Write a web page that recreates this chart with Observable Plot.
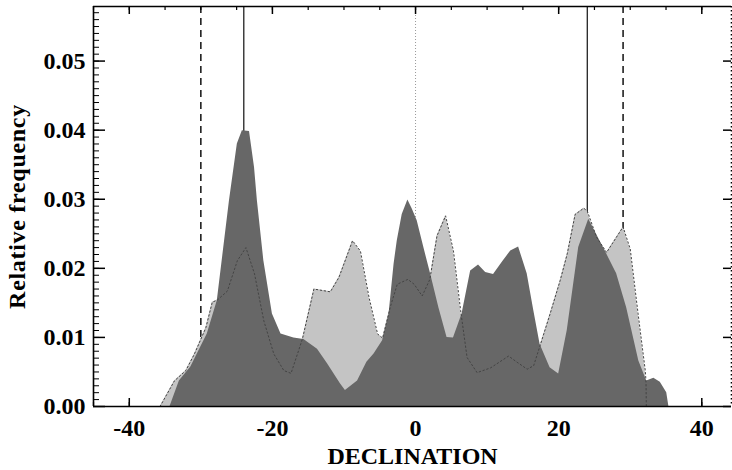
<!DOCTYPE html>
<html>
<head>
<meta charset="utf-8">
<script src="https://cdn.jsdelivr.net/npm/d3@7"></script>
<script src="https://cdn.jsdelivr.net/npm/@observablehq/plot@0.6"></script>
<style>
  html, body { margin: 0; padding: 0; background: #fff; }
</style>
</head>
<body>
<div id="chart"></div>
<script>
// ---- data ----
const xDomain = [-45, 44.15];
const yDomain = [0, 0.0579];
const xMajorTicks = [-40, -20, 0, 20, 40];
const xMinorTicks = [-45, -40, -35, -30, -25, -20, -15, -10, -5, 0, 5, 10, 15, 20, 25, 30, 35, 40];
const yMajorTicks = [0, 0.01, 0.02, 0.03, 0.04, 0.05];
const yMinorTicks = d3.range(0, 58).map(i => i / 1000);

// dark grey distribution
const darkDec  = [-34.3, -33.0, -31.4, -29.1, -27.7, -26.0, -24.9, -24.2, -23.2, -22.5, -22.1, -21.2, -20.0, -18.8, -17.0, -15.6, -13.7, -12.3, -10.5, -9.8, -8.1, -6.8, -5.8, -4.6, -3.7, -3.0, -2.55, -1.86, -1.07, -0.46, 0.23, 1.16, 2.1, 3.26, 4.4, 5.3, 6.5, 7.7, 8.8, 9.8, 10.9, 12.2, 13.3, 14.4, 15.6, 16.5, 17.4, 18.8, 20.0, 21.2, 22.8, 24.2, 25.5, 26.7, 28.1, 29.5, 31.2, 32.3, 33.3, 34.2, 35.1, 35.4];
const darkFreq = [0, 0.0037, 0.0057, 0.0105, 0.0153, 0.0298, 0.0380, 0.0399, 0.0398, 0.0346, 0.0298, 0.0211, 0.0134, 0.0105, 0.0099, 0.0097, 0.0083, 0.0062, 0.0033, 0.0023, 0.0037, 0.0064, 0.0076, 0.0095, 0.0134, 0.0206, 0.0240, 0.0278, 0.0299, 0.0286, 0.0269, 0.0230, 0.0192, 0.0143, 0.0100, 0.0099, 0.0134, 0.0196, 0.0205, 0.0194, 0.0191, 0.0210, 0.0225, 0.0231, 0.0192, 0.0140, 0.0090, 0.0056, 0.0047, 0.0110, 0.0230, 0.0271, 0.0245, 0.0221, 0.0192, 0.0143, 0.0066, 0.0037, 0.0041, 0.0035, 0.0020, 0];

// light grey distribution (its dotted outline shows through the dark one)
const lightDec  = [-35.7, -33.7, -32.1, -30.9, -29.3, -28.4, -27.7, -26.3, -24.9, -23.7, -22.5, -21.2, -19.8, -18.4, -17.4, -16.5, -15.8, -14.2, -11.9, -10.7, -8.8, -7.7, -6.5, -5.3, -4.6, -3.5, -2.55, -1.07, -0.2, 0.93, 2.0, 3.0, 4.2, 5.3, 6.3, 7.2, 8.6, 10.5, 13.0, 14.2, 15.6, 16.5, 17.4, 18.8, 20.2, 21.2, 22.3, 23.5, 24.0, 25.3, 26.7, 29.0, 30.0, 31.1, 32.1, 32.2, 32.25];
const lightFreq = [0, 0.0037, 0.0052, 0.0076, 0.0114, 0.0151, 0.0154, 0.0167, 0.0211, 0.0230, 0.0192, 0.0124, 0.0076, 0.0052, 0.0048, 0.0076, 0.0098, 0.0170, 0.0166, 0.0187, 0.0240, 0.0225, 0.0158, 0.0105, 0.0099, 0.0145, 0.0177, 0.0184, 0.0177, 0.0160, 0.0184, 0.0247, 0.0276, 0.0225, 0.0139, 0.0071, 0.0049, 0.0056, 0.0073, 0.0064, 0.0054, 0.0059, 0.0088, 0.0134, 0.0182, 0.0221, 0.0278, 0.0287, 0.0283, 0.0245, 0.0223, 0.0260, 0.0228, 0.0134, 0.0052, 0.0037, 0];

// vertical reference lines
const dashedLines = [-30, 29];
const solidLines = [-24, 24];
const dottedLines = [0];

// ---- build ----
const dark = darkDec.map((d, i) => ({dec: d, f: darkFreq[i]}));
const light = lightDec.map((d, i) => ({dec: d, f: lightFreq[i]}));

const W = 732, H = 470;
const mT = 6, mR = 1, mB = 64, mL = 93;
const pw = W - mL - mR, ph = H - mT - mB;
const font = "Liberation Serif, Times New Roman, serif";

const chart = Plot.plot({
  width: W, height: H,
  marginTop: mT, marginRight: mR, marginBottom: mB, marginLeft: mL,
  x: {domain: xDomain},
  y: {domain: yDomain},
  style: {fontFamily: font, background: "#fff", overflow: "visible"},
  marks: [
    Plot.ruleX(dashedLines, {stroke: "#111", strokeWidth: 1.5, strokeDasharray: "7,5"}),
    Plot.ruleX(solidLines, {stroke: "#222", strokeWidth: 1.3}),
    Plot.ruleX(dottedLines, {stroke: "#999", strokeWidth: 1, strokeDasharray: "1,2"}),
    // ticks
    Plot.tickX(xMinorTicks, {x: d => d, insetBottom: ph - 4, stroke: "#000", strokeWidth: 1.2}),
    Plot.tickX(xMajorTicks, {x: d => d, insetBottom: ph - 8, stroke: "#000", strokeWidth: 1.5}),
    Plot.tickX(xMinorTicks, {x: d => d, insetTop: ph - 4, stroke: "#000", strokeWidth: 1.2}),
    Plot.tickX(xMajorTicks, {x: d => d, insetTop: ph - 8, stroke: "#000", strokeWidth: 1.5}),
    Plot.tickY(yMinorTicks, {y: d => d, insetRight: pw - 6, stroke: "#000", strokeWidth: 1}),
    Plot.tickY(yMajorTicks, {y: d => d, insetRight: pw - 12, stroke: "#000", strokeWidth: 1.5}),
    Plot.tickY(yMajorTicks, {y: d => d, insetLeft: pw - 8, stroke: "#000", strokeWidth: 1.5}),
    // distributions
    Plot.areaY(light, {x: "dec", y: "f", fill: "#c4c4c4", curve: "linear"}),
    Plot.areaY(dark, {x: "dec", y: "f", fill: "#676767", curve: "linear"}),
    Plot.lineY(light, {x: "dec", y: "f", stroke: "#444", strokeWidth: 1, strokeDasharray: "1.5,2.5", curve: "linear"}),
    // frame
    Plot.ruleX([xDomain[0]], {stroke: "#000", strokeWidth: 1.6}),
    Plot.ruleY([yDomain[0]], {stroke: "#000", strokeWidth: 1.6}),
    Plot.ruleY([yDomain[1]], {stroke: "#000", strokeWidth: 1.6}),
    Plot.ruleX([xDomain[1]], {stroke: "#000", strokeWidth: 1.6, strokeDasharray: "1.5,2.5"}),
    // axes labels
    Plot.axisX(xMajorTicks, {anchor: "bottom", tickSize: 0, tickPadding: 12, tickFormat: d => String(d), fontSize: 24, fontWeight: "bold", label: null, fill: "#000"}),
    Plot.axisY(yMajorTicks, {anchor: "left", tickSize: 0, tickPadding: 8, tickFormat: d => d.toFixed(2), fontSize: 24, fontWeight: "bold", label: null, fill: "#000"}),
    Plot.text(["DECLINATION"], {text: d => d, frameAnchor: "bottom", textAnchor: "middle", lineAnchor: "middle", dy: 50, fontSize: 24, fontWeight: "bold", fill: "#000"}),
    Plot.text(["Relative frequency"], {text: d => d, frameAnchor: "left", textAnchor: "middle", dx: -76, rotate: -90, fontSize: 24, fontWeight: "bold", fill: "#000"})
  ]
});
chart.querySelectorAll("text").forEach(t => {
  if (t.textContent === "Relative frequency") t.setAttribute("letter-spacing", "0.7");
});
document.getElementById("chart").appendChild(chart);
</script>
</body>
</html>
